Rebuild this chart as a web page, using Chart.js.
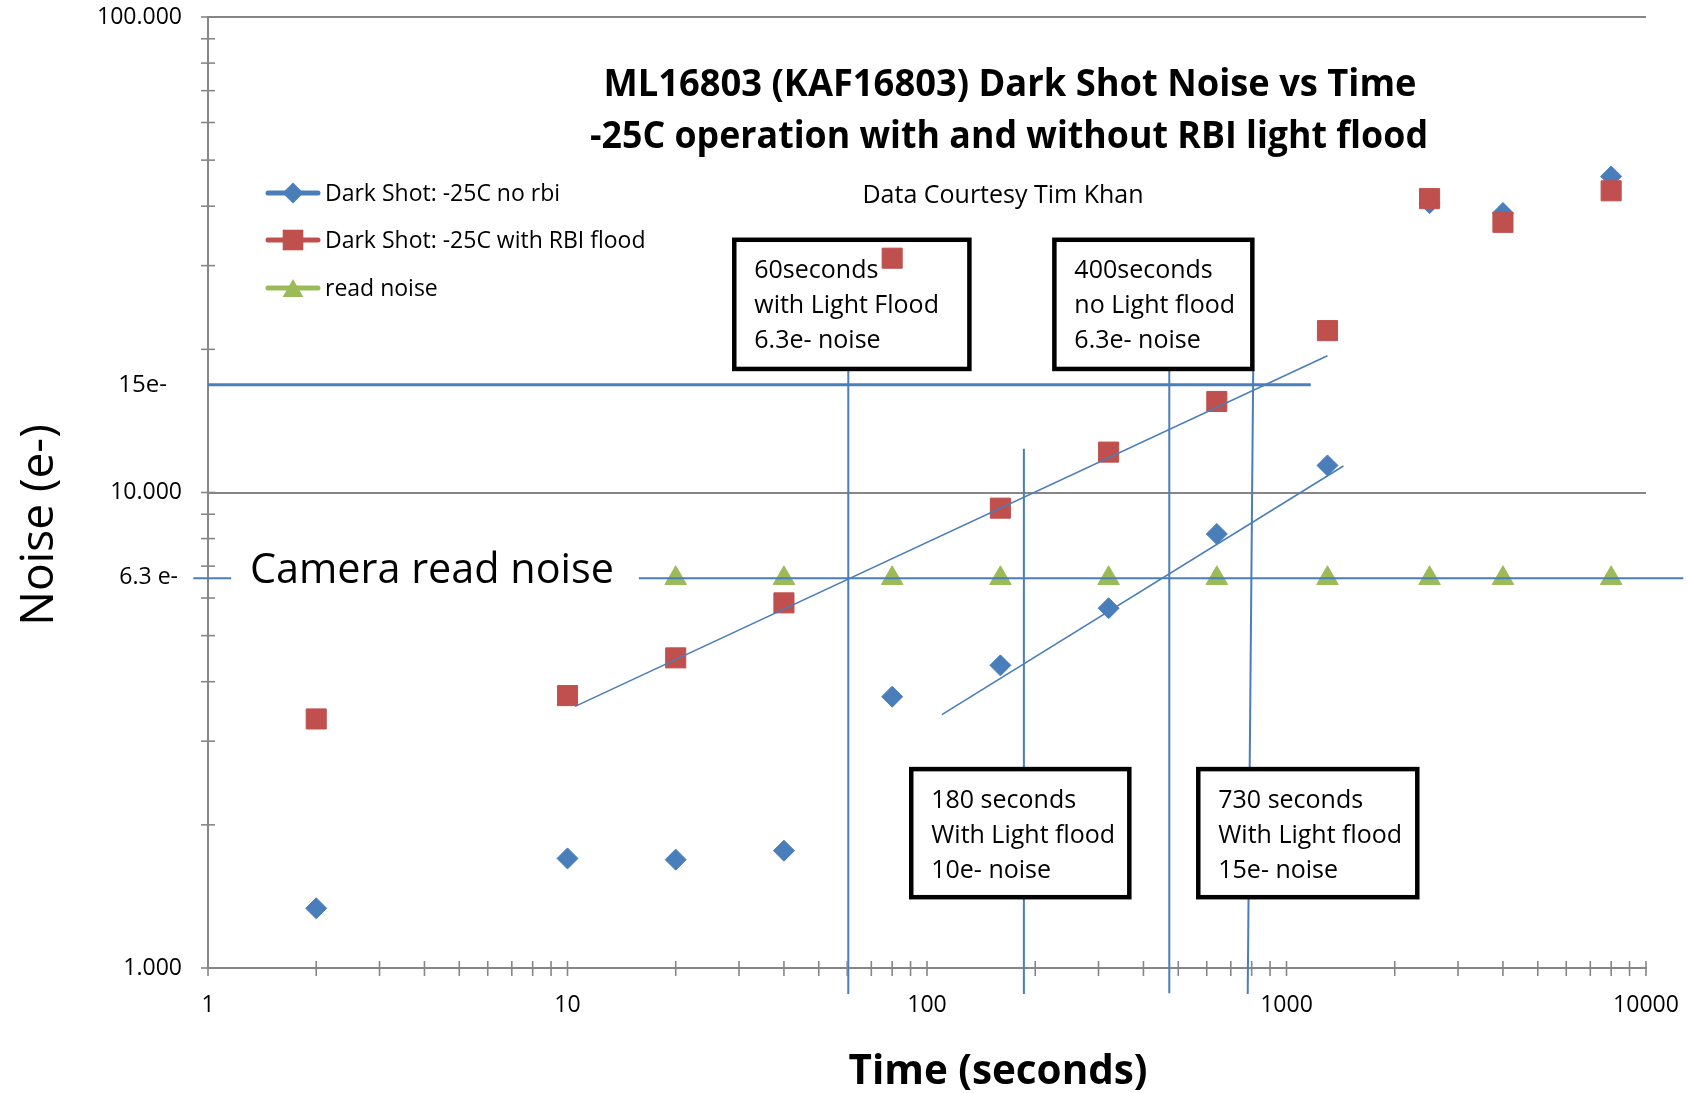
<!DOCTYPE html>
<html>
<head>
<meta charset="utf-8">
<script src="https://cdn.jsdelivr.net/npm/chart.js@4/dist/chart.umd.min.js"></script>
<style>
html,body{margin:0;padding:0;background:#ffffff;}
canvas{display:block;}
</style>
</head>
<body>
<canvas id="c" width="1688" height="1093"></canvas>
<script>
// ---------------- data ----------------
const times          = [2, 10, 20, 40, 80, 160, 320, 640, 1300, 2500, 4000, 8000];
const noiseNoRbi     = [1.335, 1.70, 1.69, 1.765, 3.72, 4.33, 5.71, 8.18, 11.4, 40.6, 38.7, 46.2];
const noiseRbiFlood  = [3.34, 3.74, 4.49, 5.86, 31.1, 9.27, 12.16, 15.54, 21.9, 41.5, 37.0, 43.1];
const readNoiseTimes = [20, 40, 80, 160, 320, 640, 1300, 2500, 4000, 8000];
const readNoise      = [6.6, 6.6, 6.6, 6.6, 6.6, 6.6, 6.6, 6.6, 6.6, 6.6];

// hand-drawn trend lines (two end points each)
const fitFloodTimes  = [10.5, 1300];
const fitFloodNoise  = [3.55, 19.4];
const fitNoRbiTimes  = [110, 1440];
const fitNoRbiNoise  = [3.41, 11.37];

const seriesNames = ['Dark Shot: -25C no rbi', 'Dark Shot: -25C with RBI flood', 'read noise'];

const xTickValues = [1,2,3,4,5,6,7,8,9,10,20,30,40,50,60,70,80,90,100,200,300,400,500,600,700,800,900,1000,2000,3000,4000,5000,6000,7000,8000,9000,10000];
const xTickLabels = {1:'1', 10:'10', 100:'100', 1000:'1000', 10000:'10000'};
const yTickValues = [1,2,3,4,5,6,7,8,9,10,20,30,40,50,60,70,80,90,100];
const yTickLabels = {1:'1.000', 10:'10.000', 100:'100.000'};
const yGridValues = [10, 100];

// annotation guide levels (data units)
const level15 = 16.84;            // "15e-" line
const level63 = 6.6;              // "6.3 e-" line
const level15Times = [1, 1168];
const level63Left  = [0.91, 1.16];
const level63Right = [15.8, 12700];
const verticalGuides = [
  {x:[60.4, 60.4], y:[18.19, 0.882]},
  {x:[186, 186],   y:[12.36, 0.882]},
  {x:[472, 472],   y:[18.19, 0.885]},
  {x:[808, 780],   y:[18.19, 0.882]}
];
const noteBoxes = [
  {lines:['60seconds', 'with Light Flood', '6.3e- noise'],   x:[29.1, 131.2], y:[34.0, 18.19]},
  {lines:['400seconds', 'no Light flood', '6.3e- noise'],    x:[226.1, 803.5], y:[34.0, 18.19]},
  {lines:['180 seconds', 'With Light flood', '10e- noise'],  x:[90.4, 365.4], y:[2.62, 1.409]},
  {lines:['730 seconds', 'With Light flood', '15e- noise'],  x:[568.3, 2311], y:[2.62, 1.409]}
];

// ---------------- styles ----------------
const BLUE = '#4A7EBB', RED = '#C0504D', GREEN = '#9BBB59', GRID = '#868686';
const LINE_BLUE = '#4A7EBB';
const FONT = '"Open Sans", "Liberation Sans", sans-serif';

function txt(ctx, s, x, y, size, weight, align, maxW) {
  ctx.font = (weight || 'normal') + ' ' + size + 'px ' + FONT;
  ctx.textAlign = align || 'left';
  ctx.textBaseline = 'middle';
  ctx.fillStyle = '#000';
  if (maxW) ctx.fillText(s, x, y, maxW); else ctx.fillText(s, x, y);
}

function marker(ctx, style, x, y, color) {
  ctx.fillStyle = color;
  ctx.beginPath();
  if (style === 'rect') { const h = 10.3; ctx.rect(x - h, y - h, 2*h, 2*h); }
  else if (style === 'rectRot') { const r = 10.5; ctx.moveTo(x, y - r); ctx.lineTo(x + r, y); ctx.lineTo(x, y + r); ctx.lineTo(x - r, y); ctx.closePath(); }
  else { const r = 12; ctx.moveTo(x, y - r); ctx.lineTo(x + r*0.866, y + r/2); ctx.lineTo(x - r*0.866, y + r/2); ctx.closePath(); }
  ctx.fill();
}

const annotations = {
  id: 'annotations',
  beforeDatasetsDraw(chart) {
    const {ctx, scales: {x, y}} = chart;
    const X = v => x.getPixelForValue(v), Y = v => y.getPixelForValue(v);
    ctx.save();
    ctx.lineCap = 'butt';
    // vertical guides
    ctx.strokeStyle = LINE_BLUE; ctx.lineWidth = 2;
    verticalGuides.forEach(g => {
      ctx.beginPath(); ctx.moveTo(X(g.x[0]), Y(g.y[0])); ctx.lineTo(X(g.x[1]), Y(g.y[1])); ctx.stroke();
    });
    // 15e- level
    ctx.lineWidth = 3;
    ctx.beginPath(); ctx.moveTo(X(level15Times[0]), Y(level15)); ctx.lineTo(X(level15Times[1]), Y(level15)); ctx.stroke();
    // note boxes
    noteBoxes.forEach(b => {
      const l = X(b.x[0]), r = X(b.x[1]), t = Y(b.y[0]), bt = Y(b.y[1]);
      ctx.fillStyle = '#fff'; ctx.fillRect(l, t, r - l, bt - t);
      ctx.strokeStyle = '#000'; ctx.lineWidth = 4.5; ctx.strokeRect(l, t, r - l, bt - t);
      b.lines.forEach((s, i) => txt(ctx, s, l + 20, t + 31.5 + i * 35, 25, 'normal', 'left'));
    });
    ctx.restore();
  },
  afterDatasetsDraw(chart) {
    const {ctx, scales: {x, y}, chartArea: ca} = chart;
    const X = v => x.getPixelForValue(v), Y = v => y.getPixelForValue(v);
    ctx.save();
    // read noise level line
    ctx.strokeStyle = LINE_BLUE; ctx.lineWidth = 2;
    [level63Left, level63Right].forEach(seg => {
      ctx.beginPath(); ctx.moveTo(X(seg[0]), Y(level63)); ctx.lineTo(X(seg[1]), Y(level63)); ctx.stroke();
    });
    // crossing tick marks
    ctx.strokeStyle = GRID; ctx.lineWidth = 1.6;
    yTickValues.forEach(v => { const py = Y(v); ctx.beginPath(); ctx.moveTo(ca.left - 7, py); ctx.lineTo(ca.left + 7, py); ctx.stroke(); });
    xTickValues.forEach(v => { const px = X(v); ctx.beginPath(); ctx.moveTo(px, ca.bottom - 7); ctx.lineTo(px, ca.bottom + 8); ctx.stroke(); });
    // axis-side level labels
    txt(ctx, '15e-', 167, Y(level15), 24, 'normal', 'right');
    txt(ctx, '6.3 e-', 178, Y(level63) - 1, 23, 'normal', 'right');
    txt(ctx, 'Camera read noise', 250, Y(level63) - 7, 42, 'normal', 'left', 364);
    // titles
    txt(ctx, 'ML16803 (KAF16803) Dark Shot Noise vs Time', 1010, 85, 37, 'bold', 'center', 813);
    txt(ctx, '-25C operation with and without RBI light flood', 1009, 137, 37, 'bold', 'center', 838);
    txt(ctx, 'Data Courtesy Tim Khan', 1003, 196, 25, 'normal', 'center', 285);
    txt(ctx, 'Time (seconds)', 998, 1072, 42, 'bold', 'center', 299);
    ctx.save();
    ctx.translate(40, 525); ctx.rotate(-Math.PI / 2);
    txt(ctx, 'Noise (e-)', 0, 0, 46, 'normal', 'center', 205);
    ctx.restore();
    // legend
    const legendRows = [
      {name: seriesNames[0], color: BLUE,  style: 'rectRot', y: 193},
      {name: seriesNames[1], color: RED,   style: 'rect',    y: 240},
      {name: seriesNames[2], color: GREEN, style: 'triangle', y: 288}
    ];
    legendRows.forEach(r => {
      ctx.strokeStyle = r.color; ctx.lineWidth = 5; ctx.lineCap = 'round';
      ctx.beginPath(); ctx.moveTo(268, r.y); ctx.lineTo(318, r.y); ctx.stroke();
      marker(ctx, r.style, 293, r.style === 'triangle' ? r.y + 3 : r.y, r.color);
      txt(ctx, r.name, 325, r.y + 1, 23, 'normal', 'left');
    });
    ctx.restore();
  }
};

const toPts = (xs, ys) => xs.map((t, i) => ({x: t, y: ys[i]}));
const noScalePadding = s => { s.paddingTop = 0; s.paddingBottom = 0; s.paddingLeft = 0; s.paddingRight = 0; };

new Chart(document.getElementById('c'), {
  type: 'scatter',
  data: {
    datasets: [
      {label: seriesNames[0], data: toPts(times, noiseNoRbi), pointStyle: 'rectRot', pointRadius: 10.5,
       backgroundColor: BLUE, borderColor: BLUE, borderWidth: 1, showLine: false, order: 3},
      {label: seriesNames[1], data: toPts(times, noiseRbiFlood), pointStyle: 'rect', pointRadius: 14.2,
       backgroundColor: RED, borderColor: RED, borderWidth: 1, showLine: false, order: 2},
      {label: seriesNames[2], data: toPts(readNoiseTimes, readNoise), pointStyle: 'triangle', pointRadius: 12.5,
       backgroundColor: GREEN, borderColor: GREEN, borderWidth: 1, showLine: false, order: 2.5},
      {label: 'trend with RBI flood', data: toPts(fitFloodTimes, fitFloodNoise), showLine: true, pointRadius: 0,
       borderColor: LINE_BLUE, borderWidth: 1.6, order: 0},
      {label: 'trend no rbi', data: toPts(fitNoRbiTimes, fitNoRbiNoise), showLine: true, pointRadius: 0,
       borderColor: LINE_BLUE, borderWidth: 1.6, order: 0}
    ]
  },
  options: {
    responsive: false,
    devicePixelRatio: 1,
    animation: false,
    events: [],
    layout: {padding: {left: 0, top: 17, right: 42, bottom: 0}},
    plugins: {legend: {display: false}, tooltip: {enabled: false}, title: {display: false}},
    scales: {
      x: {
        type: 'logarithmic', min: 1, max: 10000, position: 'bottom',
        afterBuildTicks: s => { s.ticks = xTickValues.map(v => ({value: v})); },
        afterFit: s => { s.height = 125; noScalePadding(s); },
        ticks: {autoSkip: false, maxRotation: 0, padding: 24, color: '#000',
                font: {family: FONT, size: 23},
                callback: v => xTickLabels[v] || ''},
        grid: {color: 'rgba(0,0,0,0)', drawTicks: false},
        border: {display: true, color: GRID, width: 2}
      },
      y: {
        type: 'logarithmic', min: 1, max: 100, position: 'left',
        afterBuildTicks: s => { s.ticks = yTickValues.map(v => ({value: v})); },
        afterFit: s => { s.width = 208; noScalePadding(s); },
        ticks: {autoSkip: false, padding: 26, color: '#000',
                font: {family: FONT, size: 23},
                callback: v => yTickLabels[v] || ''},
        grid: {drawTicks: false, lineWidth: 2,
               color: c => (c.tick && yGridValues.includes(c.tick.value)) ? GRID : 'rgba(0,0,0,0)'},
        border: {display: true, color: GRID, width: 2}
      }
    }
  },
  plugins: [annotations]
});
</script>
</body>
</html>
